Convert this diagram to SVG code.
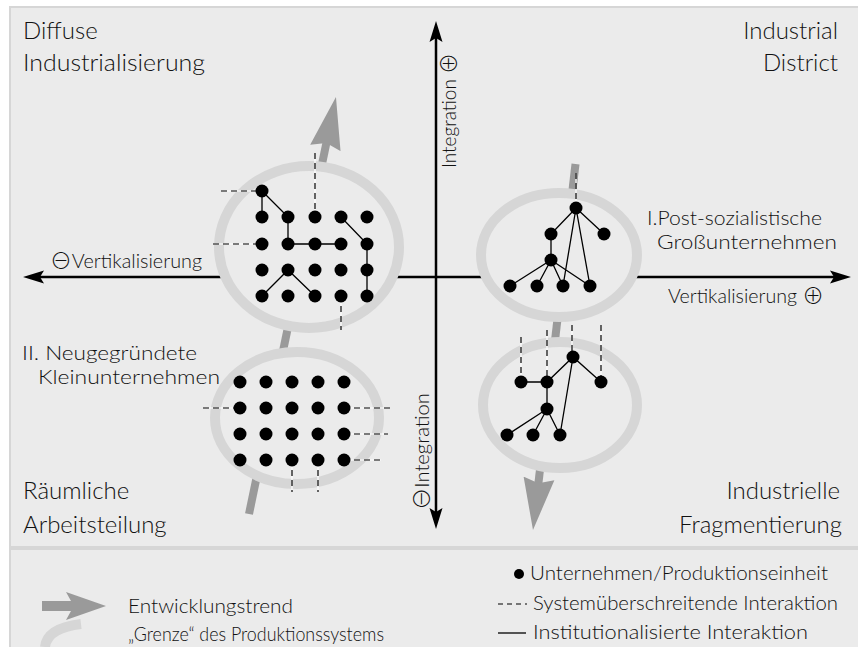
<svg xmlns="http://www.w3.org/2000/svg" width="858" height="647" viewBox="0 0 858 647">
  <style>
    text { font-family: Lato, "Open Sans", "DejaVu Sans", sans-serif; font-weight: 300; fill: #111; }
    .sym { font-family: "Noto Sans CJK JP", "DejaVu Sans", sans-serif; font-size: 21px; font-weight: 300; }
    .title { font-size: 24px; }
    .lbl { font-size: 19px; }
    .leg { font-size: 19px; }
    .axis { stroke: #000; stroke-width: 2.5; fill: none; }
    .trend { stroke: #9a9a9a; stroke-width: 8; fill: none; }
    .ring { fill: #ebebeb; stroke: #d6d6d6; stroke-width: 10; }
    .solid { stroke: #000; stroke-width: 1.3; fill: none; }
    .gap { stroke: #fff; stroke-width: 1.2; fill: none; }
    .dash { stroke: #000; stroke-width: 1.2; stroke-dasharray: 6 4; fill: none; }
    .dot { fill: #000; }
  </style>
  <defs>
    <marker id="axisHead" markerUnits="userSpaceOnUse" markerWidth="22" markerHeight="14" refX="10" refY="7" orient="auto-start-reverse">
      <path d="M0,0.5 L21,7 L0,13.5 L4,7 z" fill="#000"/>
    </marker>
    <marker id="trendHead" markerUnits="userSpaceOnUse" markerWidth="54" markerHeight="32" refX="12" refY="16" orient="auto">
      <path d="M0,0.5 L52,16 L0,31.5 L5,16 z" fill="#9a9a9a"/>
    </marker>
  </defs>

  <!-- panels -->
  <rect x="10" y="7" width="870" height="540" fill="#ebebeb" stroke="#d6d6d6" stroke-width="2"/>
  <rect x="10" y="549" width="870" height="110" fill="#ebebeb" stroke="#d6d6d6" stroke-width="2"/>

  <g id="connectors">
    <!-- axes -->
    <line class="axis" x1="34" y1="277" x2="840" y2="277" marker-start="url(#axisHead)" marker-end="url(#axisHead)"/>
    <line class="axis" x1="436" y1="32" x2="436" y2="518" marker-start="url(#axisHead)" marker-end="url(#axisHead)"/>
    <!-- development trends -->
    <line class="trend" x1="249" y1="514" x2="327.8" y2="136.2" marker-end="url(#trendHead)"/>
    <line class="trend" x1="575.5" y1="164" x2="537.6" y2="490.3" marker-end="url(#trendHead)"/>
  </g>

  <!-- production system boundaries -->
  <g id="rings">
    <ellipse class="ring" cx="309" cy="247" rx="90" ry="81"/>
    <ellipse class="ring" cx="559" cy="255" rx="78" ry="62"/>
    <ellipse class="ring" cx="560" cy="405" rx="77" ry="63"/>
    <ellipse class="ring" cx="297" cy="418" rx="82" ry="66"/>
  </g>

  <!-- diffuse industrialisation cluster -->
  <g id="cluster-diffuse">
    <path class="gap" d="M221,191 H262 M213,244 H262 M315,153 V217 M341,296 V330"/>
    <path class="dash" d="M221,191 H262 M213,244 H262 M315,153 V217 M341,296 V330"/>
    <path class="solid" d="M262,191 V217 M262,191 L288,217 V244 H341 M341,217 L367,244 V296 M262,296 L288,270 L315,296"/>
    <g class="dot">
      <circle cx="262" cy="191" r="6.5"/>
      <circle cx="262" cy="217" r="6.5"/><circle cx="288" cy="217" r="6.5"/><circle cx="315" cy="217" r="6.5"/><circle cx="341" cy="217" r="6.5"/><circle cx="367" cy="217" r="6.5"/>
      <circle cx="262" cy="244" r="6.5"/><circle cx="288" cy="244" r="6.5"/><circle cx="315" cy="244" r="6.5"/><circle cx="341" cy="244" r="6.5"/><circle cx="367" cy="244" r="6.5"/>
      <circle cx="262" cy="270" r="6.5"/><circle cx="288" cy="270" r="6.5"/><circle cx="315" cy="270" r="6.5"/><circle cx="341" cy="270" r="6.5"/><circle cx="367" cy="270" r="6.5"/>
      <circle cx="262" cy="296" r="6.5"/><circle cx="288" cy="296" r="6.5"/><circle cx="315" cy="296" r="6.5"/><circle cx="341" cy="296" r="6.5"/><circle cx="367" cy="296" r="6.5"/>
    </g>
  </g>

  <!-- post-socialist large enterprises -->
  <g id="cluster-district">
    <path class="gap" d="M576,173 V208"/>
    <path class="dash" d="M576,173 V208"/>
    <path class="solid" d="M576,208 L551,234 V260 M576,208 L604,234 M576,208 L563,286 M576,208 L590,286 M551,260 L510,286 M551,260 L537,286 M551,260 L563,286 M551,260 L590,286"/>
    <g class="dot">
      <circle cx="576" cy="208" r="6.5"/>
      <circle cx="551" cy="234" r="6.5"/><circle cx="604" cy="234" r="6.5"/>
      <circle cx="551" cy="260" r="6.5"/>
      <circle cx="510" cy="286" r="6.5"/><circle cx="537" cy="286" r="6.5"/><circle cx="563" cy="286" r="6.5"/><circle cx="590" cy="286" r="6.5"/>
    </g>
  </g>

  <!-- fragmented enterprises -->
  <g id="cluster-fragment">
    <path class="gap" d="M521,337 V382 M547,330 V382 M572,325 V357 M601,325 V382"/>
    <path class="dash" d="M521,337 V382 M547,330 V382 M572,325 V357 M601,325 V382"/>
    <path class="solid" d="M521,382 H547 L573,357 L601,382 M573,357 L560,435 M547,382 V409 L507,435 M547,409 L533,435 M547,409 L560,435"/>
    <g class="dot">
      <circle cx="573" cy="357" r="6.5"/>
      <circle cx="521" cy="382" r="6.5"/><circle cx="547" cy="382" r="6.5"/><circle cx="601" cy="382" r="6.5"/>
      <circle cx="547" cy="409" r="6.5"/>
      <circle cx="507" cy="435" r="6.5"/><circle cx="533" cy="435" r="6.5"/><circle cx="560" cy="435" r="6.5"/>
    </g>
  </g>

  <!-- newly founded small enterprises -->
  <g id="cluster-small">
    <path class="gap" d="M203,408 H240 M344,408 H390 M344,434 H388 M344,460 H381 M292,460 V492 M318,460 V492"/>
    <path class="dash" d="M203,408 H240 M344,408 H390 M344,434 H388 M344,460 H381 M292,460 V492 M318,460 V492"/>
    <g class="dot">
      <circle cx="240" cy="382" r="6.5"/><circle cx="266" cy="382" r="6.5"/><circle cx="292" cy="382" r="6.5"/><circle cx="318" cy="382" r="6.5"/><circle cx="344" cy="382" r="6.5"/>
      <circle cx="240" cy="408" r="6.5"/><circle cx="266" cy="408" r="6.5"/><circle cx="292" cy="408" r="6.5"/><circle cx="318" cy="408" r="6.5"/><circle cx="344" cy="408" r="6.5"/>
      <circle cx="240" cy="434" r="6.5"/><circle cx="266" cy="434" r="6.5"/><circle cx="292" cy="434" r="6.5"/><circle cx="318" cy="434" r="6.5"/><circle cx="344" cy="434" r="6.5"/>
      <circle cx="240" cy="460" r="6.5"/><circle cx="266" cy="460" r="6.5"/><circle cx="292" cy="460" r="6.5"/><circle cx="318" cy="460" r="6.5"/><circle cx="344" cy="460" r="6.5"/>
    </g>
  </g>

  <!-- quadrant titles -->
  <g id="quadrant-titles" class="title">
    <text x="23" y="39">Diffuse</text>
    <text x="23" y="71" textLength="182" lengthAdjust="spacingAndGlyphs">Industrialisierung</text>
    <text x="838" y="39" text-anchor="end">Industrial</text>
    <text x="838" y="71" text-anchor="end">District</text>
    <text x="23" y="499">Räumliche</text>
    <text x="23" y="533">Arbeitsteilung</text>
    <text x="840" y="499" text-anchor="end">Industrielle</text>
    <text x="842" y="533" text-anchor="end">Fragmentierung</text>
  </g>

  <!-- axis and cluster labels -->
  <g id="labels" class="lbl">
    <text x="50" y="268" textLength="152" lengthAdjust="spacingAndGlyphs"><tspan class="sym">⊖</tspan>Vertikalisierung</text>
    <text x="668" y="303" textLength="156" lengthAdjust="spacingAndGlyphs">Vertikalisierung <tspan class="sym">⊕</tspan></text>
    <text transform="translate(456,168) rotate(-90)" textLength="115" lengthAdjust="spacingAndGlyphs">Integration <tspan class="sym">⊕</tspan></text>
    <text transform="translate(429,510) rotate(-90)" textLength="117" lengthAdjust="spacingAndGlyphs"><tspan class="sym">⊖</tspan>Integration</text>
    <text x="647" y="225" textLength="175" lengthAdjust="spacingAndGlyphs">I.Post-sozialistische</text>
    <text x="657" y="249" textLength="180" lengthAdjust="spacingAndGlyphs">Großunternehmen</text>
    <text x="22" y="360" textLength="175" lengthAdjust="spacingAndGlyphs">II. Neugegründete</text>
    <text x="38" y="384" textLength="182" lengthAdjust="spacingAndGlyphs">Kleinunternehmen</text>
  </g>

  <!-- legend -->
  <g id="legend" class="leg">
    <path d="M42,601 L71,601 L66,592 L106,606 L66,620 L71,611 L42,611 z" fill="#9a9a9a"/>
    <path d="M45,647 Q47,628 81,624" stroke="#d6d6d6" stroke-width="10" fill="none"/>
    <text x="128" y="613" textLength="165" lengthAdjust="spacingAndGlyphs">Entwicklungstrend</text>
    <text x="128" y="641" textLength="256" lengthAdjust="spacingAndGlyphs">„Grenze“ des Produktionssystems</text>
    <circle class="dot" cx="519" cy="574" r="5"/>
    <text x="530" y="580" textLength="298" lengthAdjust="spacingAndGlyphs">Unternehmen/Produktionseinheit</text>
    <line x1="498" y1="604" x2="527" y2="604" stroke="#000" stroke-width="1.2" stroke-dasharray="5 4"/>
    <text x="533" y="610" textLength="305" lengthAdjust="spacingAndGlyphs">Systemüberschreitende Interaktion</text>
    <line x1="498" y1="633" x2="526" y2="633" stroke="#000" stroke-width="1.3"/>
    <text x="533" y="639" textLength="275" lengthAdjust="spacingAndGlyphs">Institutionalisierte Interaktion</text>
  </g>
</svg>
